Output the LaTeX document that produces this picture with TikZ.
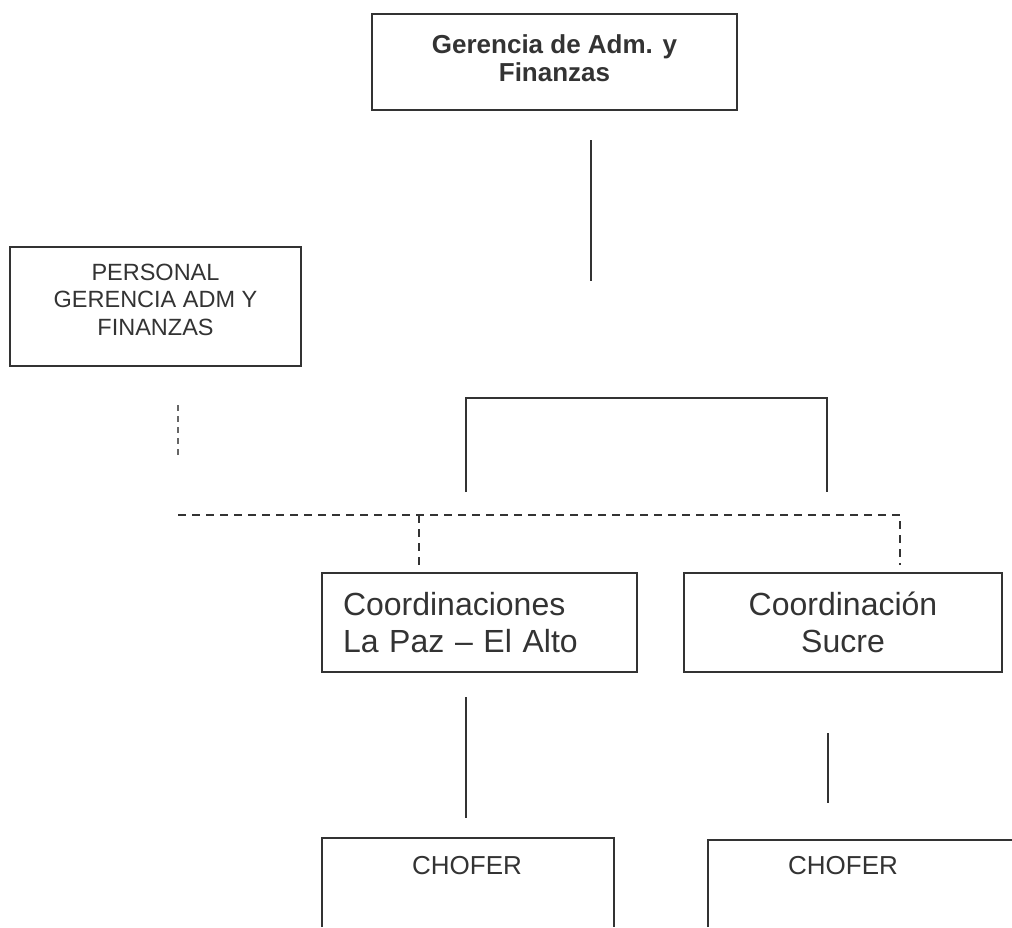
\documentclass[tikz,border=0pt]{standalone}
\usepackage{fontspec}
\setmainfont{Liberation Sans}
\begin{document}
\begin{tikzpicture}
	  [
	    x                       = 1pt,
	    y                       = -1pt,
	    every node/.style       = {text=black!80},
	    caja/.style             = {draw=black!80, line width=1.2pt, align=center, inner sep=0pt},
	    linea/.style            = {draw=black!80, line width=1.2pt},
	    punteada/.style         = {linea, dash pattern=on 8pt off 6pt},
	    texto/.style            = {font=\fontsize{26}{30}\selectfont}
		]
	  \useasboundingbox (0,0) rectangle (1012,927);
	  % cajas
	  \node [caja, minimum width=365pt, minimum height=96pt, text depth=8pt,
	  	font=\fontsize{26}{28}\selectfont\bfseries] (gerencia) at (554.5,62)
	  	{Gerencia de Adm. y\\Finanzas};
	  \node [caja, minimum width=291pt, minimum height=119pt, text depth=14pt,
	  	font=\fontsize{23.5}{27.5}\selectfont] (personal) at (155.5,306.5)
	  	{PERSONAL\\GERENCIA ADM Y\\FINANZAS};
	  \node [caja, minimum height=99pt, inner xsep=21pt, text width=273pt, align=left,
	  	font=\fontsize{32}{37}\selectfont] (lapaz) at (479.5,622.5)
	  	{Coordinaciones\\La Paz -- El Alto};
	  \node [caja, minimum width=318pt, minimum height=99pt,
	  	font=\fontsize{32}{37}\selectfont] (sucre) at (843,622.5)
	  	{Coordinación\\Sucre};
	  \node [texto] (choferA) at (467,866) {CHOFER};
	  \node [texto] (choferB) at (843,866) {CHOFER};
	  \draw [linea] (322,927) -- (322,838) -- (614,838) -- (614,927);
	  \draw [linea] (708,927) -- (708,840) -- (1012,840);
	  % conectores
	  \coordinate (g1) at (591,140);
	  \coordinate (g2) at (591,281);
	  \coordinate (b1) at (466,492);
	  \coordinate (b2) at (827,492);
	  \coordinate (p1) at (178,405);
	  \coordinate (p2) at (178,455);
	  \coordinate (d1) at (178,515);
	  \coordinate (d2) at (419,515);
	  \coordinate (d3) at (900,515);
	  \coordinate (l1) at (466,697);
	  \coordinate (l2) at (466,818);
	  \coordinate (s1) at (828,733);
	  \coordinate (s2) at (828,803);
	  \draw [linea] (g1) -- (g2);
	  \draw [linea] (b1) -- (466,398) -- (827,398) -- (b2);
	  \draw [punteada, draw=black!60, dash pattern=on 6pt off 5pt] (p1) -- (p2);
	  \draw [punteada] (d1) -- (d3) -- (900,565);
	  \draw [punteada] (d2) -- (419,565);
	  \draw [linea] (l1) -- (l2);
	  \draw [linea] (s1) -- (s2);
	\end{tikzpicture}
\end{document}
